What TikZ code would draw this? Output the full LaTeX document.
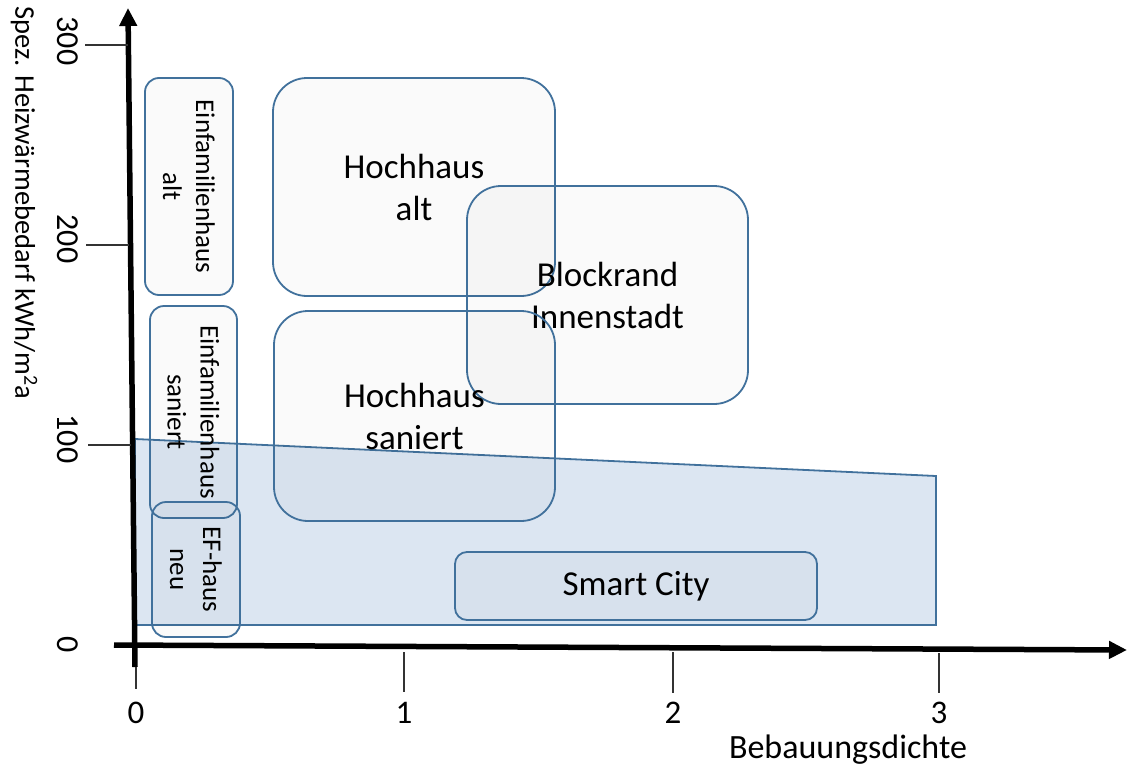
\documentclass[tikz,border=0pt]{standalone}
\usepackage{fontspec}
\setmainfont{Carlito}
\usetikzlibrary{arrows.meta}
\definecolor{frame}{RGB}{65,113,156}
\definecolor{zone}{RGB}{220,230,242}
\begin{document}
\begin{tikzpicture}[x=1pt,y=-1pt,
  zonebox/.style={draw=frame, line width=1.8pt, fill=black, fill opacity=0.02,
    text opacity=1, align=center, inner sep=0pt},
  big/.style={font=\fontsize{35}{42}\selectfont},
  small/.style={font=\fontsize{27}{33}\selectfont},
  ticklabel/.style={font=\fontsize{32}{38}\selectfont, inner sep=0pt},
  tickline/.style={draw=black!80, line width=1.2pt},
  axisline/.style={line width=5.5pt, -{Triangle[length=18pt,width=17pt]}},
]
\useasboundingbox (0,0) rectangle (1127,771);

% low-demand region
\draw[fill=zone, draw=frame, line width=1.8pt]
  (135,439) -- (936,476) -- (936,625) -- (135,625) -- cycle;

% building types
\node[zonebox, big, rounded corners=34pt, minimum width=282pt, minimum height=218pt]
  (hha) at (414,187) {Hochhaus\\alt};
\node[zonebox, big, rounded corners=34pt, minimum width=281pt, minimum height=218pt]
  (blk) at (607.5,295) {Blockrand\\Innenstadt};
\node[zonebox, big, rounded corners=34pt, minimum width=281pt, minimum height=210pt]
  (hhs) at (414.5,416) {Hochhaus\\saniert};
\node[zonebox, big, rounded corners=12pt, minimum width=362pt, minimum height=68pt]
  (sc) at (636,586) {Smart City};
\node[zonebox, small, rotate=-90, rounded corners=14pt, minimum width=217pt, minimum height=88pt]
  (efa) at (189,186.5) {Einfamilienhaus\\alt};
\node[zonebox, small, rotate=-90, rounded corners=14pt, minimum width=212pt, minimum height=87pt]
  (efs) at (193.5,412) {Einfamilienhaus\\saniert};
\node[zonebox, small, rotate=-90, rounded corners=14pt, minimum width=135pt, minimum height=88pt]
  (efn) at (196,569.5) {EF-haus\\neu};

% axes
\coordinate (ybot) at (135,667);
\coordinate (ytop) at (128,8);
\coordinate (xleft) at (114,645);
\coordinate (xright) at (1127,650);
\draw[axisline] (ybot) -- (ytop);
\draw[axisline] (xleft) -- (xright);

% y ticks
\foreach \yy/\xa/\xb/\lab in {45/85/128/300, 245/86/129/200, 445/88/131/100}{
  \coordinate (ta\lab) at (\xa,\yy);
  \coordinate (tb\lab) at (\xb,\yy);
  \draw[tickline] (ta\lab) -- (tb\lab);
}
\node[ticklabel, rotate=-90] (y300) at (68,41) {300};
\node[ticklabel, rotate=-90] (y200) at (68,239) {200};
\node[ticklabel, rotate=-90] (y100) at (68,439) {100};
\node[ticklabel, rotate=-90] (y0) at (68,645) {0};

% x ticks
\foreach \xx/\ya/\yb/\lab in {136/667/689/0, 404/652/692/1, 673/652/693/2, 939/653/693/3}{
  \coordinate (ua\lab) at (\xx,\ya);
  \coordinate (ub\lab) at (\xx,\yb);
  \draw[tickline] (ua\lab) -- (ub\lab);
  \node[ticklabel, font=\fontsize{33}{38}\selectfont] (x\lab) at (\xx,713) {\lab};
}

% axis titles
\node[inner sep=0pt, font=\fontsize{34}{40}\selectfont] (xt) at (848,750) {Bebauungsdichte};
\node[inner sep=0pt, rotate=-90, font=\fontsize{28.5}{34}\selectfont] (yt) at (24,203)
  {Spez. Heizwärmebedarf kWh/m\textsuperscript{2}a};
\end{tikzpicture}
\end{document}
